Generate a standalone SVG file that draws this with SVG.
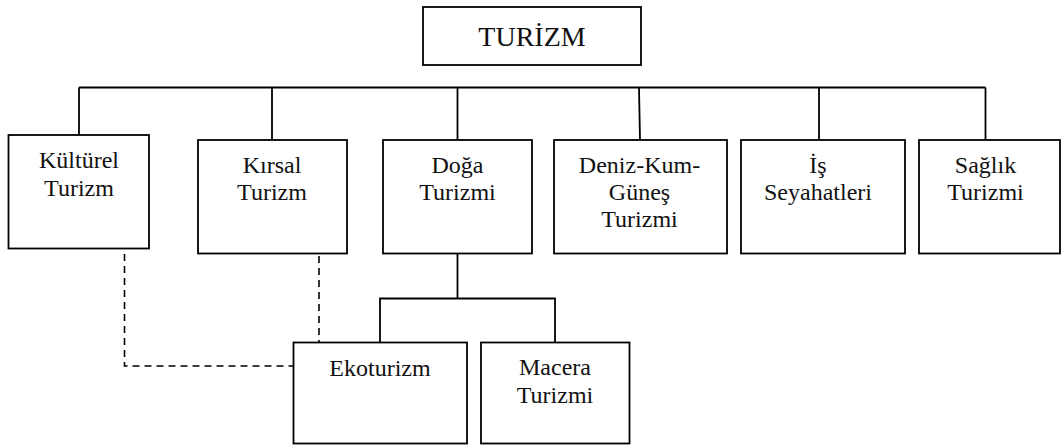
<svg xmlns="http://www.w3.org/2000/svg" width="1062" height="445" viewBox="0 0 1062 445" font-family="'Liberation Serif', 'Times New Roman', 'DejaVu Serif', serif">
<style>
.box{fill:#fff;stroke:#000;stroke-width:1.8}
.t{font-family:'Liberation Serif','Times New Roman','DejaVu Serif',serif;font-size:24px;fill:#111;text-anchor:middle}
.title{font-size:28px}
.ln{fill:none;stroke:#000;stroke-width:1.8}
.dash{fill:none;stroke:#000;stroke-width:1.6;stroke-dasharray:7,5}
</style>
<rect width="1062" height="445" fill="#fff"/>
<g id="connectors">
<path class="ln" d="M79,87.5 H985.5 M79,87.5 V139 M272,87.5 V140 M457.5,87.5 V140 M639,87.5 L640,140 M819,87.5 V140 M985.5,87.5 V140"/>
<path class="ln" d="M457.5,254 V298.5 M380,342.5 V298.5 H555 V342.5"/>
<path class="dash" d="M124.5,254 V366 H293.5"/>
<path class="dash" d="M319,256 V342.5"/>
</g>
<g id="turizm"><rect class="box" x="423" y="7" width="218" height="58"/><text class="t title" x="532" y="46">TURİZM</text></g>
<g id="kulturel"><rect class="box" x="8.5" y="135" width="140.5" height="113.5"/><text class="t" x="79" y="168">Kültürel</text><text class="t" x="79" y="196">Turizm</text></g>
<g id="kirsal"><rect class="box" x="198" y="140" width="149" height="113.5"/><text class="t" x="272" y="173">Kırsal</text><text class="t" x="272" y="200">Turizm</text></g>
<g id="doga"><rect class="box" x="383" y="140" width="149" height="113.5"/><text class="t" x="457.5" y="173">Doğa</text><text class="t" x="457.5" y="200">Turizmi</text></g>
<g id="deniz"><rect class="box" x="554" y="140" width="173" height="113.5"/><text class="t" x="639.5" y="173">Deniz-Kum-</text><text class="t" x="639.5" y="200">Güneş</text><text class="t" x="639.5" y="227">Turizmi</text></g>
<g id="is"><rect class="box" x="741" y="140" width="164" height="113.5"/><text class="t" x="818" y="173">İş</text><text class="t" x="818" y="200">Seyahatleri</text></g>
<g id="saglik"><rect class="box" x="919" y="140" width="141" height="113.5"/><text class="t" x="985.5" y="173">Sağlık</text><text class="t" x="985.5" y="200">Turizmi</text></g>
<g id="ekoturizm"><rect class="box" x="293.5" y="342.5" width="173.5" height="101"/><text class="t" x="380" y="376">Ekoturizm</text></g>
<g id="macera"><rect class="box" x="481" y="342.5" width="148.5" height="101"/><text class="t" x="555" y="375">Macera</text><text class="t" x="555" y="403">Turizmi</text></g>
</svg>
